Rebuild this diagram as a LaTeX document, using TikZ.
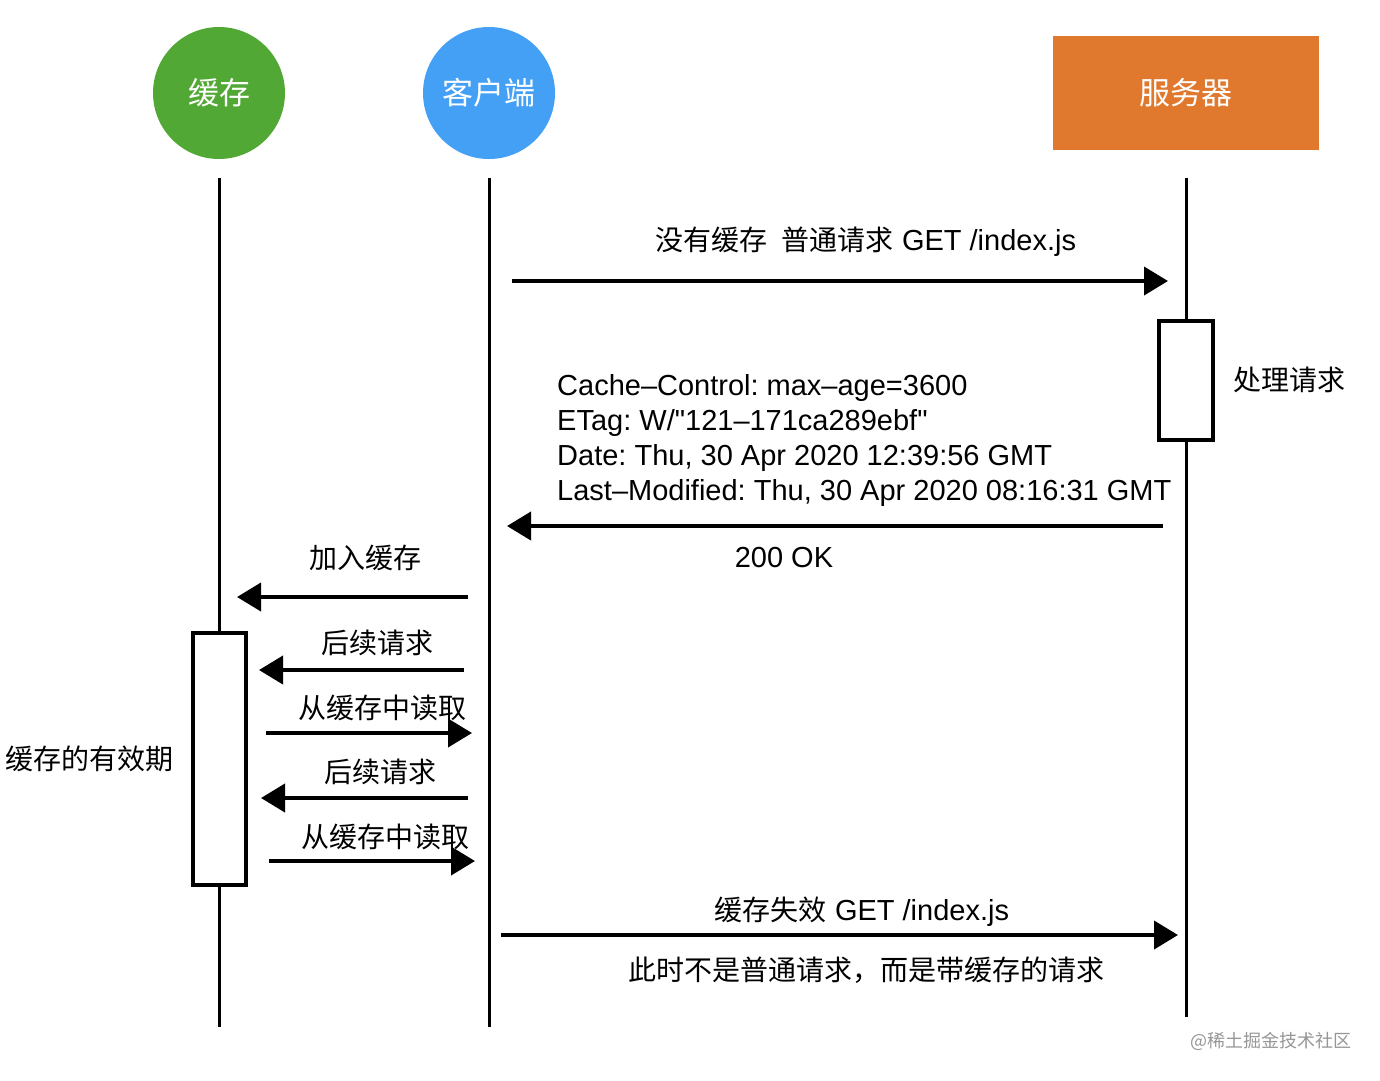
\documentclass[tikz,border=0pt]{standalone}
\usepackage{fontspec}
\setmainfont{Noto Sans CJK SC}
\newfontfamily\lat{Liberation Sans}
\usetikzlibrary{arrows.meta}
\definecolor{cgreen}{RGB}{82,168,52}
\definecolor{cblue}{RGB}{68,160,245}
\definecolor{corange}{RGB}{224,121,46}
\definecolor{wm}{RGB}{150,150,150}
\frenchspacing
\newcommand{\lt}[1]{{\lat\fontsize{29}{33}\selectfont #1}}
\tikzset{
  actor/.style={circle, minimum size=132pt, inner sep=0pt, text=white, font=\fontsize{31}{34}\selectfont},
  lifeline/.style={line width=3pt, black},
  actbox/.style={draw=black, line width=3.5pt, fill=white, inner sep=0pt},
  msg/.style={line width=4pt, black, -{Triangle[length=24pt,width=28pt]}},
  lbl/.style={font=\fontsize{28}{32}\selectfont, inner sep=0pt},
}
\begin{document}
\begin{tikzpicture}[x=1pt,y=-1pt]
\useasboundingbox (0,0) rectangle (1380,1080);
% actors
\node[actor, fill=cgreen] (cache) at (219,93) {缓存};
\node[actor, fill=cblue] (client) at (489,93) {客户端};
\node[fill=corange, minimum width=266pt, minimum height=114pt, inner sep=0pt, text=white, font=\fontsize{31}{34}\selectfont] (server) at (1186,93) {服务器};
% lifeline coordinates
\coordinate (cacheTop) at (219,178); \coordinate (cacheBot) at (219,1027);
\coordinate (clientTop) at (489,178); \coordinate (clientBot) at (489,1027);
\coordinate (serverTop) at (1186,178); \coordinate (serverBot) at (1186,1017);
\draw[lifeline] (cacheTop) -- (cacheBot);
\draw[lifeline] (clientTop) -- (clientBot);
\draw[lifeline] (serverTop) -- (serverBot);
% activation boxes
\node[actbox, minimum width=54pt, minimum height=119pt] (srvact) at (1186,380.5) {};
\node[actbox, minimum width=53pt, minimum height=252pt] (cacheact) at (219.5,759) {};
\node[lbl, anchor=west] (proc) at (1233,380) {处理请求};
\node[lbl, anchor=east] (valid) at (174,759) {缓存的有效期};
% message 1
\coordinate (m1a) at (512,281); \coordinate (m1b) at (1168,281);
\draw[msg] (m1a) -- (m1b);
\node[lbl] (l1) at (866,242) {没有缓存\hspace{0.5em}普通请求\lt{ GET /index.js}};
% message 2
\coordinate (m2a) at (1163,526); \coordinate (m2b) at (507,526);
\draw[msg] (m2a) -- (m2b);
\node[lbl, anchor=west] (h1) at (557,388) {\lt{Cache–Control: max–age=3600}};
\node[lbl, anchor=west] (h2) at (557,423) {\lt{ETag: W/"121–171ca289ebf"}};
\node[lbl, anchor=west] (h3) at (557,458) {\lt{Date: Thu, 30 Apr 2020 12:39:56 GMT}};
\node[lbl, anchor=west] (h4) at (557,493) {\lt{Last–Modified: Thu, 30 Apr 2020 08:16:31 GMT}};
\node[lbl] (ok) at (784,558) {\lt{200 OK}};
% message 3
\coordinate (m3a) at (468,597); \coordinate (m3b) at (237,597);
\draw[msg] (m3a) -- (m3b);
\node[lbl] (l3) at (365,558) {加入缓存};
% message 4
\coordinate (m4a) at (464,670); \coordinate (m4b) at (259,670);
\draw[msg] (m4a) -- (m4b);
\node[lbl] (l4) at (377,643) {后续请求};
% message 5
\coordinate (m5a) at (266,733); \coordinate (m5b) at (472,733);
\draw[msg] (m5a) -- (m5b);
\node[lbl] (l5) at (382,708) {从缓存中读取};
% message 6
\coordinate (m6a) at (468,798); \coordinate (m6b) at (261,798);
\draw[msg] (m6a) -- (m6b);
\node[lbl] (l6) at (380,772) {后续请求};
% message 7
\coordinate (m7a) at (269,861); \coordinate (m7b) at (475,861);
\draw[msg] (m7a) -- (m7b);
\node[lbl] (l7) at (385,837) {从缓存中读取};
% message 8
\coordinate (m8a) at (501,935); \coordinate (m8b) at (1178,935);
\draw[msg] (m8a) -- (m8b);
\node[lbl] (l8) at (862,912) {缓存失效\lt{ GET /index.js}};
\node[lbl] (l9) at (866,970) {此时不是普通请求，而是带缓存的请求};
% watermark
\node[font=\fontsize{18}{20}\selectfont, text=wm, inner sep=0pt] (wmk) at (1271,1041) {@稀土掘金技术社区};
\end{tikzpicture}
\end{document}
